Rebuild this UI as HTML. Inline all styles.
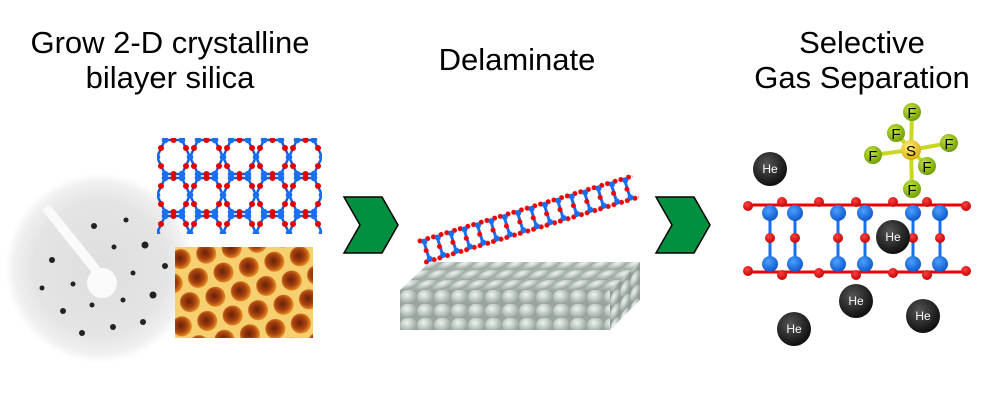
<!DOCTYPE html>
<html><head><meta charset="utf-8"><style>
body{margin:0;background:#fff;width:1000px;height:400px;overflow:hidden}
.t{font-family:"Liberation Sans",sans-serif;font-size:31px;fill:#000}
</style></head><body>
<svg width="1000" height="400" viewBox="0 0 1000 400">
<defs>
<radialGradient id="leed" cx="0.5" cy="0.5" r="0.5">
<stop offset="0" stop-color="#dedede"/><stop offset="0.7" stop-color="#e4e4e4"/><stop offset="0.9" stop-color="#f0f0f0"/><stop offset="1" stop-color="#fff"/>
</radialGradient>
<radialGradient id="he" cx="0.4" cy="0.35" r="0.7"><stop offset="0" stop-color="#555"/><stop offset="1" stop-color="#0a0a0a"/></radialGradient>
<radialGradient id="bl" cx="0.4" cy="0.35" r="0.7"><stop offset="0" stop-color="#4aa0ff"/><stop offset="1" stop-color="#0a55c8"/></radialGradient>
<radialGradient id="rd" cx="0.4" cy="0.35" r="0.7"><stop offset="0" stop-color="#ff4040"/><stop offset="1" stop-color="#c00000"/></radialGradient>
<radialGradient id="fg" cx="0.4" cy="0.35" r="0.7"><stop offset="0" stop-color="#c8e840"/><stop offset="1" stop-color="#6a9a00"/></radialGradient>
<radialGradient id="sg" cx="0.4" cy="0.35" r="0.7"><stop offset="0" stop-color="#fff080"/><stop offset="1" stop-color="#d8a800"/></radialGradient>
<radialGradient id="gr" cx="0.4" cy="0.35" r="0.7"><stop offset="0" stop-color="#eef4f0"/><stop offset="1" stop-color="#8e9c94"/></radialGradient>
<radialGradient id="cell" cx="0.45" cy="0.45" r="0.55"><stop offset="0" stop-color="#6a2006"/><stop offset="0.6" stop-color="#a84410"/><stop offset="1" stop-color="#e88a20"/></radialGradient>
<pattern id="hex" x="157" y="138" width="33" height="38" patternUnits="userSpaceOnUse">
<polygon points="8,2 25,2 33,19 25,36 8,36 0,19" fill="none" stroke="#1060e0" stroke-width="2.5"/>
<g fill="#e00000"><circle cx="16.5" cy="2" r="3"/><circle cx="16.5" cy="36" r="3"/><circle cx="4" cy="10" r="3"/><circle cx="29" cy="10" r="3"/><circle cx="4" cy="28" r="3"/><circle cx="29" cy="28" r="3"/></g>
<g fill="#1a6ef0"><circle cx="8" cy="2" r="3.3"/><circle cx="25" cy="2" r="3.3"/><circle cx="8" cy="36" r="3.3"/><circle cx="25" cy="36" r="3.3"/><circle cx="0" cy="19" r="3.3"/><circle cx="33" cy="19" r="3.3"/></g>
</pattern>
<pattern id="stm" x="175" y="247" width="26" height="44" patternUnits="userSpaceOnUse" patternTransform="rotate(-12)">
<rect width="26" height="44" fill="#f6d070"/>
<circle cx="13" cy="22" r="10" fill="url(#cell)"/>
<circle cx="0" cy="0" r="10" fill="url(#cell)"/><circle cx="26" cy="0" r="10" fill="url(#cell)"/>
<circle cx="0" cy="44" r="10" fill="url(#cell)"/><circle cx="26" cy="44" r="10" fill="url(#cell)"/>
</pattern>
<pattern id="strip" x="0" y="0" width="14" height="30" patternUnits="userSpaceOnUse">
<rect x="5" y="3" width="3" height="24" fill="#1a6ef0"/>
<circle cx="3" cy="4" r="2.5" fill="#e00"/><circle cx="11" cy="4" r="2.5" fill="#e00"/>
<circle cx="6" cy="15" r="2.5" fill="#e00"/><circle cx="3" cy="26" r="2.5" fill="#e00"/><circle cx="11" cy="26" r="2.5" fill="#e00"/>
<circle cx="7" cy="6" r="3" fill="#1a6ef0"/><circle cx="7" cy="24" r="3" fill="#1a6ef0"/>
</pattern>
<pattern id="balls" x="400" y="290" width="17" height="14" patternUnits="userSpaceOnUse">
<rect width="17" height="14" fill="#98a69e"/><ellipse cx="8.5" cy="7" rx="8.5" ry="7.5" fill="url(#gr)"/>
</pattern>
<pattern id="tballs" x="400" y="290" width="17" height="10" patternUnits="userSpaceOnUse" patternTransform="skewX(-47)">
<rect width="17" height="10" fill="#a4b2aa"/><ellipse cx="8.5" cy="5" rx="8.5" ry="5.5" fill="url(#gr)"/>
</pattern>
<pattern id="sballs" x="610" y="290" width="10" height="14" patternUnits="userSpaceOnUse" patternTransform="skewY(-43)">
<rect width="10" height="14" fill="#8e9c94"/><ellipse cx="5" cy="7" rx="5" ry="7" fill="url(#gr)"/>
</pattern>
</defs>

<text class="t" x="170" y="53" text-anchor="middle">Grow 2-D crystalline</text>
<text class="t" x="170" y="88" text-anchor="middle">bilayer silica</text>
<text class="t" x="517" y="70" text-anchor="middle">Delaminate</text>
<text class="t" x="862" y="53" text-anchor="middle">Selective</text>
<text class="t" x="862" y="88" text-anchor="middle">Gas Separation</text>

<!-- LEED -->
<circle cx="100" cy="268" r="95" fill="url(#leed)"/>
<polygon points="42,210 50,205 104,272 96,278" fill="#fafafa"/>
<circle cx="102" cy="283" r="15" fill="#fafafa"/>
<g fill="#222">
<circle cx="94" cy="226" r="3"/><circle cx="126" cy="220" r="2.5"/><circle cx="145" cy="245" r="3.5"/><circle cx="52" cy="260" r="3"/>
<circle cx="114" cy="247" r="2.5"/><circle cx="165" cy="266" r="3"/><circle cx="133" cy="273" r="2.5"/><circle cx="42" cy="288" r="2.5"/>
<circle cx="73" cy="284" r="2.5"/><circle cx="153" cy="295" r="3.5"/><circle cx="123" cy="300" r="2.5"/><circle cx="92" cy="305" r="2.5"/>
<circle cx="63" cy="311" r="3"/><circle cx="143" cy="322" r="3"/><circle cx="113" cy="327" r="3"/><circle cx="82" cy="333" r="3"/></g>

<rect x="157" y="138" width="165" height="96" fill="url(#hex)"/>
<rect x="175" y="247" width="138" height="91" fill="url(#stm)"/>

<!-- chevrons -->
<polygon points="344,197 382,197 398,225 382,253 344,253 360,225" fill="#009040" stroke="#000" stroke-width="1.5"/>
<polygon points="656,197 694,197 710,225 694,253 656,253 672,225" fill="#009040" stroke="#000" stroke-width="1.5"/>

<!-- strip -->
<g transform="translate(416,238) rotate(-17)">
<rect x="0" y="0" width="225" height="30" fill="url(#strip)"/>
</g>
<!-- slab -->
<polygon points="400,290 430,262 640,262 610,290" fill="url(#tballs)"/>
<polygon points="610,290 640,262 640,300 610,330" fill="url(#sballs)"/>
<rect x="400" y="290" width="210" height="40" fill="url(#balls)"/>

<!-- membrane -->
<g stroke-width="3">
<line x1="748" y1="205" x2="970" y2="205" stroke="#e00"/>
<line x1="748" y1="272" x2="970" y2="272" stroke="#e00"/>
<g stroke="#1a6ef0">
<line x1="770" y1="213" x2="770" y2="265"/><line x1="795" y1="213" x2="795" y2="265"/><line x1="838" y1="213" x2="838" y2="265"/>
<line x1="865" y1="213" x2="865" y2="265"/><line x1="913" y1="213" x2="913" y2="265"/><line x1="940" y1="213" x2="940" y2="265"/></g>
</g>
<g fill="url(#rd)">
<circle cx="748" cy="206" r="5"/><circle cx="782" cy="202" r="5"/><circle cx="819" cy="202" r="5"/><circle cx="856" cy="202" r="5"/><circle cx="893" cy="202" r="5"/><circle cx="927" cy="202" r="5"/><circle cx="966" cy="206" r="5"/>
<circle cx="748" cy="271" r="5"/><circle cx="782" cy="275" r="5"/><circle cx="819" cy="273" r="5"/><circle cx="856" cy="275" r="5"/><circle cx="893" cy="273" r="5"/><circle cx="927" cy="275" r="5"/><circle cx="966" cy="271" r="5"/>
<circle cx="770" cy="238" r="5"/><circle cx="795" cy="238" r="5"/><circle cx="838" cy="238" r="5"/><circle cx="865" cy="238" r="5"/><circle cx="913" cy="238" r="5"/><circle cx="940" cy="238" r="5"/></g>
<g fill="url(#bl)">
<circle cx="770" cy="213" r="8"/><circle cx="795" cy="213" r="8"/><circle cx="838" cy="213" r="8"/><circle cx="865" cy="213" r="8"/><circle cx="913" cy="213" r="8"/><circle cx="940" cy="213" r="8"/>
<circle cx="770" cy="264" r="8"/><circle cx="795" cy="264" r="8"/><circle cx="838" cy="264" r="8"/><circle cx="865" cy="264" r="8"/><circle cx="913" cy="264" r="8"/><circle cx="940" cy="264" r="8"/></g>

<!-- SF6 -->
<g stroke="#c8d820" stroke-width="4">
<line x1="911" y1="150" x2="912" y2="112"/><line x1="911" y1="150" x2="896" y2="133"/><line x1="911" y1="150" x2="873" y2="155"/>
<line x1="911" y1="150" x2="949" y2="143"/><line x1="911" y1="150" x2="927" y2="166"/><line x1="911" y1="150" x2="912" y2="189"/></g>
<g font-family="Liberation Sans,sans-serif" font-size="15" text-anchor="middle">
<circle cx="896" cy="133" r="9" fill="url(#fg)"/><text x="896" y="139">F</text>
<circle cx="912" cy="112" r="9" fill="url(#fg)"/><text x="912" y="118">F</text>
<circle cx="911" cy="150" r="10" fill="url(#sg)"/><text x="911" y="156">S</text>
<circle cx="873" cy="155" r="9" fill="url(#fg)"/><text x="873" y="161">F</text>
<circle cx="949" cy="143" r="9" fill="url(#fg)"/><text x="949" y="149">F</text>
<circle cx="927" cy="166" r="9" fill="url(#fg)"/><text x="927" y="172">F</text>
<circle cx="912" cy="189" r="9" fill="url(#fg)"/><text x="912" y="195">F</text>
</g>

<!-- He -->
<g font-family="Liberation Sans,sans-serif" font-size="12" fill="#fff" text-anchor="middle">
<circle cx="770" cy="169" r="17" fill="url(#he)"/><text x="770" y="173">He</text>
<circle cx="893" cy="237" r="17" fill="url(#he)"/><text x="893" y="241">He</text>
<circle cx="856" cy="301" r="17" fill="url(#he)"/><text x="856" y="305">He</text>
<circle cx="923" cy="316" r="17" fill="url(#he)"/><text x="923" y="320">He</text>
<circle cx="794" cy="329" r="17" fill="url(#he)"/><text x="794" y="333">He</text>
</g>
</svg>
</body></html>
